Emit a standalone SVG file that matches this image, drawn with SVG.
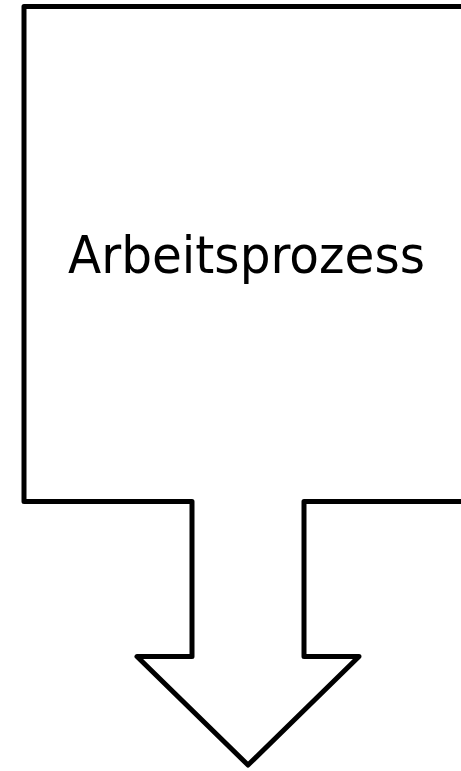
<svg xmlns="http://www.w3.org/2000/svg" width="461" height="771" viewBox="0 0 461 771">
<style>
.shape{fill:#fff;stroke:#000;stroke-width:5;stroke-linejoin:round}
.lbl{font-family:"DejaVu Sans","Liberation Sans",sans-serif;font-size:52px;fill:#000}
</style>
<rect width="461" height="771" fill="#fff"/>
<g id="arbeitsprozess">
<polygon class="shape" points="24,6.5 475,6.5 475,501.5 304,501.5 304,656.5 359,656.5 248,765 137,656.5 192,656.5 192,501.5 24,501.5"/>
<text class="lbl" x="68" y="273" textLength="357" lengthAdjust="spacingAndGlyphs">Arbeitsprozess</text>
</g>
<g id="connectors"></g>
</svg>
